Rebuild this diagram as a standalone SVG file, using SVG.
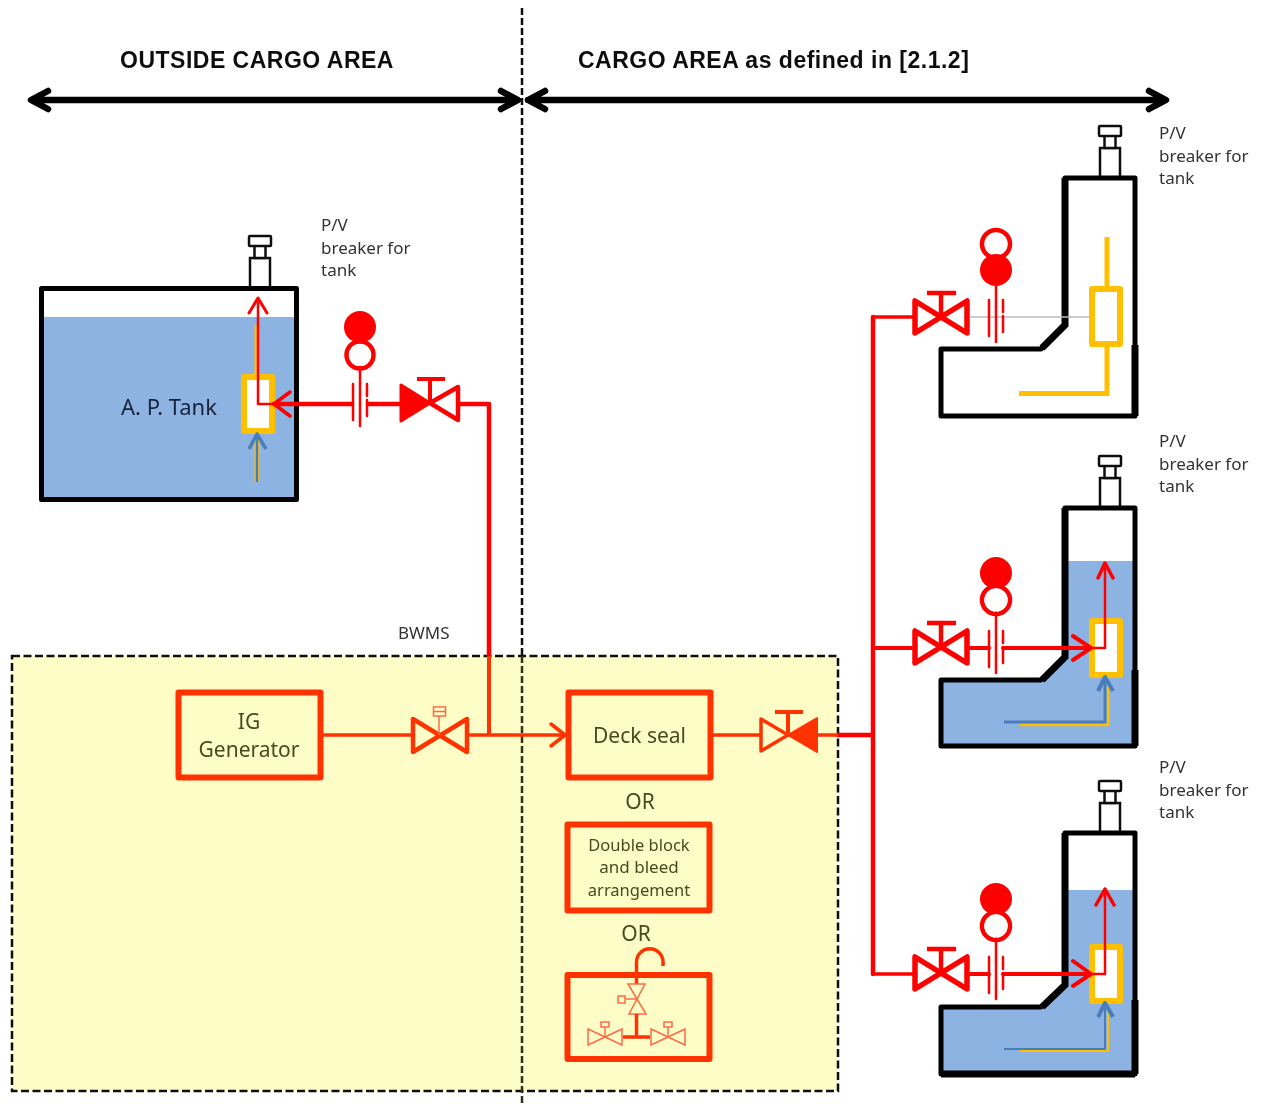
<svg xmlns="http://www.w3.org/2000/svg" xmlns:xlink="http://www.w3.org/1999/xlink" width="1264" height="1105" viewBox="0 0 1264 1105">
<style>
text{font-family:"Noto Sans","Open Sans",sans-serif;fill:#333}
.head{font-family:"Liberation Sans",Arial,sans-serif;font-weight:700;font-size:23px;letter-spacing:.5px;fill:#111}
.pv{font-size:17px;fill:#333}
.in{fill:#4a4a20;text-anchor:middle;font-size:21px}
.tank{fill:none;stroke:#000;stroke-width:5;stroke-linejoin:round}
.wall{fill:none;stroke:#000;stroke-width:7}
.r{fill:none;stroke:#f00;stroke-linejoin:round;stroke-linecap:round}
.o{fill:none;stroke:#f30;stroke-linejoin:round}
.y{fill:none;stroke:#ffc000;stroke-width:5}
.b{fill:none;stroke:#4a7ebb;stroke-linejoin:round}
.box{fill:none;stroke:#f30;stroke-width:6;stroke-linejoin:round}
.sal{fill:none;stroke:#ff6a45;stroke-width:1.5}
.vent{fill:#fff;stroke:#111;stroke-width:2.5}
</style>
<defs>
<filter id="soft" x="0" y="0" width="100%" height="100%" filterUnits="objectBoundingBox"><feGaussianBlur stdDeviation="0.55"/></filter>
<g id="vent">
<rect class="vent" x="-10" y="-30" width="20" height="30"/>
<rect class="vent" x="-5.5" y="-43" width="11" height="13"/>
<rect class="vent" x="-11" y="-52" width="22" height="10" rx="1"/>
</g>
<g id="valveR">
<path d="M-26 -16V16L26 -16V16Z" fill="none" stroke="#f00" stroke-width="5.500" stroke-linejoin="round"/>
<path d="M0 0V-24M-14 -24H15" fill="none" stroke="#f00" stroke-width="4.500"/>
</g>
<g id="gaugeStem">
<path d="M0 0V72" class="r" stroke-width="2.500"/>
<path d="M-7 30V66M7 30V42M7 46V62" class="r" stroke-width="2.500"/>
</g>
<g id="pv">
<text class="pv" x="0" y="0">P/V</text>
<text class="pv" x="0" y="23">breaker for</text>
<text class="pv" x="0" y="45">tank</text>
</g>
<g id="smallV">
<path d="M-17 -8V8L17 -8V8Z" class="sal"/>
<path d="M0 0V-10" class="sal"/>
<rect x="-4" y="-15" width="8" height="5" class="sal"/>
</g>
</defs>
<g filter="url(#soft)">
<rect x="0" y="0" width="1264" height="1105" fill="#fff"/>

<g id="bwms-area">
<rect x="12" y="656" width="826" height="435" fill="#fefdc8" stroke="#111" stroke-width="2.500" stroke-dasharray="8 3.5"/>
<text x="398" y="639" style="font-size:17px">BWMS</text>
</g>

<g id="zone-divider">
<path d="M522 8V656" stroke="#111" stroke-width="2.500" stroke-dasharray="7 3" fill="none"/>
<path d="M522 656V1105" stroke="#33331a" stroke-width="2.500" stroke-dasharray="7 3" fill="none"/>
</g>

<g id="zone-labels">
<text class="head" x="120" y="68">OUTSIDE CARGO AREA</text>
<text class="head" x="578" y="68">CARGO AREA as defined in [2.1.2]</text>
<path d="M32 100H517M48 91L31 100L48 109M501 91L518 100L501 109" fill="none" stroke="#000" stroke-width="6.500" stroke-linejoin="round" stroke-linecap="round"/>
<path d="M528 100H1164M545 91L528 100L545 109M1149 91L1166 100L1149 109" fill="none" stroke="#000" stroke-width="6.500" stroke-linejoin="round" stroke-linecap="round"/>
</g>

<g id="ap-tank">
<rect x="42" y="317" width="254" height="182" fill="#8db3e2"/>
<use xlink:href="#vent" href="#vent" x="260" y="288"/>
<rect class="tank" x="41.500" y="288.500" width="255" height="211"/>
<rect x="244" y="377" width="28" height="54" fill="#fff" stroke="#ffc000" stroke-width="6" stroke-linejoin="round"/>
<text x="169" y="415" text-anchor="middle" style="font-size:22px;fill:#17233a">A. P. Tank</text>
<use xlink:href="#pv" href="#pv" x="321" y="231"/>
<path d="M256.500 325V374" class="y" style="stroke-width:4px"/>
<path d="M257 482V436" stroke="#ffc000" stroke-width="5" fill="none"/>
<path d="M257 482V436" class="b" stroke-width="2.500"/>
<path d="M249 449L257 434L266 449" class="b" stroke-width="3.500"/>
</g>

<g id="tank-1">
<use xlink:href="#vent" href="#vent" x="1110" y="178"/>
<path class="tank" d="M1065 178H1135V416H941V349H1041L1065 325Z"/>
<path class="wall" d="M1065 178V325L1042 348M1135 345V416"/>
<path d="M970 317H1090" stroke="#bbb" stroke-width="1.500" fill="none"/>
<rect x="1092" y="289" width="28" height="55" fill="#fff" stroke="#ffc000" stroke-width="6" stroke-linejoin="round"/>
<path class="y" d="M1107 237V286M1107 347V393.500H1019"/>
<use xlink:href="#pv" href="#pv" x="1159" y="139"/>
</g>

<g id="tank-2">
<path d="M1065 561H1135V746H941V680H1041L1065 657Z" fill="#8db3e2"/>
<use xlink:href="#vent" href="#vent" x="1110" y="508"/>
<path class="tank" d="M1065 508H1135V746H941V680H1041L1065 657Z"/>
<path class="wall" d="M1065 508V657L1042 680M1135 670V746"/>
<rect x="1092" y="621" width="28" height="54" fill="#fff" stroke="#ffc000" stroke-width="6" stroke-linejoin="round"/>
<path class="y" d="M1020 725H1108V680" style="stroke-width:2.500px"/>
<path class="b" stroke-width="3" d="M1004 722H1105V679"/>
<path class="b" stroke-width="4" d="M1098 691L1105 677L1113 691"/>
<use xlink:href="#pv" href="#pv" x="1159" y="447"/>
</g>

<g id="tank-3">
<path d="M1065 890H1135V1074H941V1007H1041L1065 985Z" fill="#8db3e2"/>
<use xlink:href="#vent" href="#vent" x="1110" y="833"/>
<path class="tank" d="M1065 833H1135V1074H941V1007H1041L1065 985Z"/>
<path class="wall" d="M1065 833V985L1042 1007M1135 1000V1074M941 1074H1135"/>
<rect x="1092" y="947" width="28" height="54" fill="#fff" stroke="#ffc000" stroke-width="6" stroke-linejoin="round"/>
<path class="y" d="M1020 1051H1108V1006" style="stroke-width:2px"/>
<path class="b" stroke-width="2" d="M1004 1049H1105V1006"/>
<path class="b" stroke-width="4" d="M1098 1017L1105 1003L1113 1017"/>
<use xlink:href="#pv" href="#pv" x="1159" y="773"/>
</g>

<g id="connectors">
<path class="r" stroke-width="4.500" d="M873 317V974"/>
<path class="r" stroke-width="3.500" d="M873 317H913M873 974H913"/>
<path class="r" stroke-width="4" d="M873 648H913M970 648H989M1003 648H1090M970 974H989M1003 974H1090"/>
<path class="r" stroke-width="4" d="M1073 636L1091 648L1073 660M1073 961L1091 974L1073 986"/>
<path class="r" stroke-width="2.500" d="M1091 648H1105V563M1091 974H1105V890"/>
<path class="r" stroke-width="3.500" d="M1098 578L1105 563L1113 578M1096 905L1105 889L1114 905"/>
<path class="r" stroke-width="4.500" d="M838 735H873"/>
<path d="M459 404H489V656" fill="none" stroke="#f00" stroke-width="4.500" stroke-linejoin="round"/>
<path d="M489 656V735" fill="none" stroke="#f30" stroke-width="4"/>
<path class="r" stroke-width="4.500" d="M274 404H352M368 404H401"/>
<path class="r" stroke-width="3.500" d="M290 392L274 404L290 416"/>
<path class="r" stroke-width="2.500" d="M274 404H258V300"/>
<path class="r" stroke-width="3" d="M249 313L258 298L267 313"/>
<path class="o" stroke-width="3.500" d="M323 735H412M468 735H566"/>
<path class="o" stroke-width="3.500" d="M551 724L565 735L551 746" stroke-linecap="round"/>
<path class="o" stroke-width="3.500" d="M713 735H760M818 735H838"/>
</g>

<g id="valve-ap">
<path d="M401 385V421L430 403Z" fill="#f00" stroke="#f00" stroke-width="3" stroke-linejoin="round"/>
<path d="M430 403L458 387V420Z" fill="none" stroke="#f00" stroke-width="4.500" stroke-linejoin="round"/>
<path d="M430 403V379M417 379H445" fill="none" stroke="#f00" stroke-width="4"/>
</g>
<g id="gauge-ap">
<circle cx="360" cy="327" r="16" fill="#f00"/>
<circle cx="360" cy="355" r="13.500" fill="#fff" stroke="#f00" stroke-width="4.500"/>
<use xlink:href="#gaugeStem" href="#gaugeStem" x="360" y="354"/>
<circle cx="360" cy="355" r="11" fill="#fff"/>
</g>
<g id="valve-1"><use xlink:href="#valveR" href="#valveR" x="941" y="317"/></g>
<g id="gauge-1">
<circle cx="996" cy="244" r="14" fill="#fff" stroke="#f00" stroke-width="4.500"/>
<circle cx="996" cy="270" r="16" fill="#f00"/>
<use xlink:href="#gaugeStem" href="#gaugeStem" x="996" y="270"/>
</g>
<g id="valve-2"><use xlink:href="#valveR" href="#valveR" x="941" y="647"/></g>
<g id="gauge-2">
<circle cx="996" cy="573" r="16" fill="#f00"/>
<circle cx="996" cy="600" r="14" fill="#fff" stroke="#f00" stroke-width="4.500"/>
<use xlink:href="#gaugeStem" href="#gaugeStem" x="996" y="601"/>
<circle cx="996" cy="600" r="11.500" fill="#fff"/>
</g>
<g id="valve-3"><use xlink:href="#valveR" href="#valveR" x="941" y="973"/></g>
<g id="gauge-3">
<circle cx="996" cy="899" r="16" fill="#f00"/>
<circle cx="996" cy="926" r="14" fill="#fff" stroke="#f00" stroke-width="4.500"/>
<use xlink:href="#gaugeStem" href="#gaugeStem" x="996" y="927"/>
<circle cx="996" cy="926" r="11.500" fill="#fff"/>
</g>

<g id="ig-generator">
<rect class="box" x="178.500" y="692.500" width="142" height="85"/>
<text class="in" x="249" y="729">IG</text>
<text class="in" x="249" y="757">Generator</text>
</g>
<g id="valve-ig">
<path d="M413 719V752L467 719V752Z" fill="none" stroke="#f30" stroke-width="4.500" stroke-linejoin="round"/>
<path d="M439 735V716" stroke="#ff6a45" stroke-width="1.500" fill="none"/>
<rect x="433.500" y="707" width="12" height="9" fill="none" stroke="#ff6a45" stroke-width="1.500"/>
<path d="M433.500 711.500H445.500" stroke="#ff6a45" stroke-width="1.500"/>
</g>
<g id="deck-seal">
<rect class="box" x="568.500" y="692.500" width="142" height="85"/>
<text class="in" x="639.500" y="743">Deck seal</text>
<text class="in" x="640" y="809">OR</text>
</g>
<g id="valve-deck">
<path d="M761 719V751L788 735Z" fill="none" stroke="#f30" stroke-width="3.500" stroke-linejoin="round"/>
<path d="M788 735L817 718V752Z" fill="#f30" stroke="#f30" stroke-width="2" stroke-linejoin="round"/>
<path d="M788 735V712M775 712H803" fill="none" stroke="#f30" stroke-width="4"/>
</g>
<g id="double-block">
<rect class="box" x="567.500" y="824.500" width="142" height="86"/>
<text class="in" x="639" y="851" style="font-size:16.500px">Double block</text>
<text class="in" x="639" y="873" style="font-size:17px">and bleed</text>
<text class="in" x="639" y="896" style="font-size:16.500px">arrangement</text>
<text class="in" x="636" y="941">OR</text>
</g>
<g id="vent-arrangement">
<rect class="box" x="567.500" y="975" width="142" height="84"/>
<path d="M636.500 984V962A13 13 0 0 1 663 962V966" fill="none" stroke="#f30" stroke-width="3.500"/>
<path d="M628 984H645L629 1014H646Z" class="sal"/>
<path d="M636 999H626" class="sal"/>
<rect x="618" y="996" width="7" height="7" class="sal"/>
<path d="M636.500 1014V1037M623 1037H650" fill="none" stroke="#f30" stroke-width="3.500"/>
<use xlink:href="#smallV" href="#smallV" x="605" y="1037"/>
<use xlink:href="#smallV" href="#smallV" x="668" y="1037"/>
</g>
</g>
</svg>
